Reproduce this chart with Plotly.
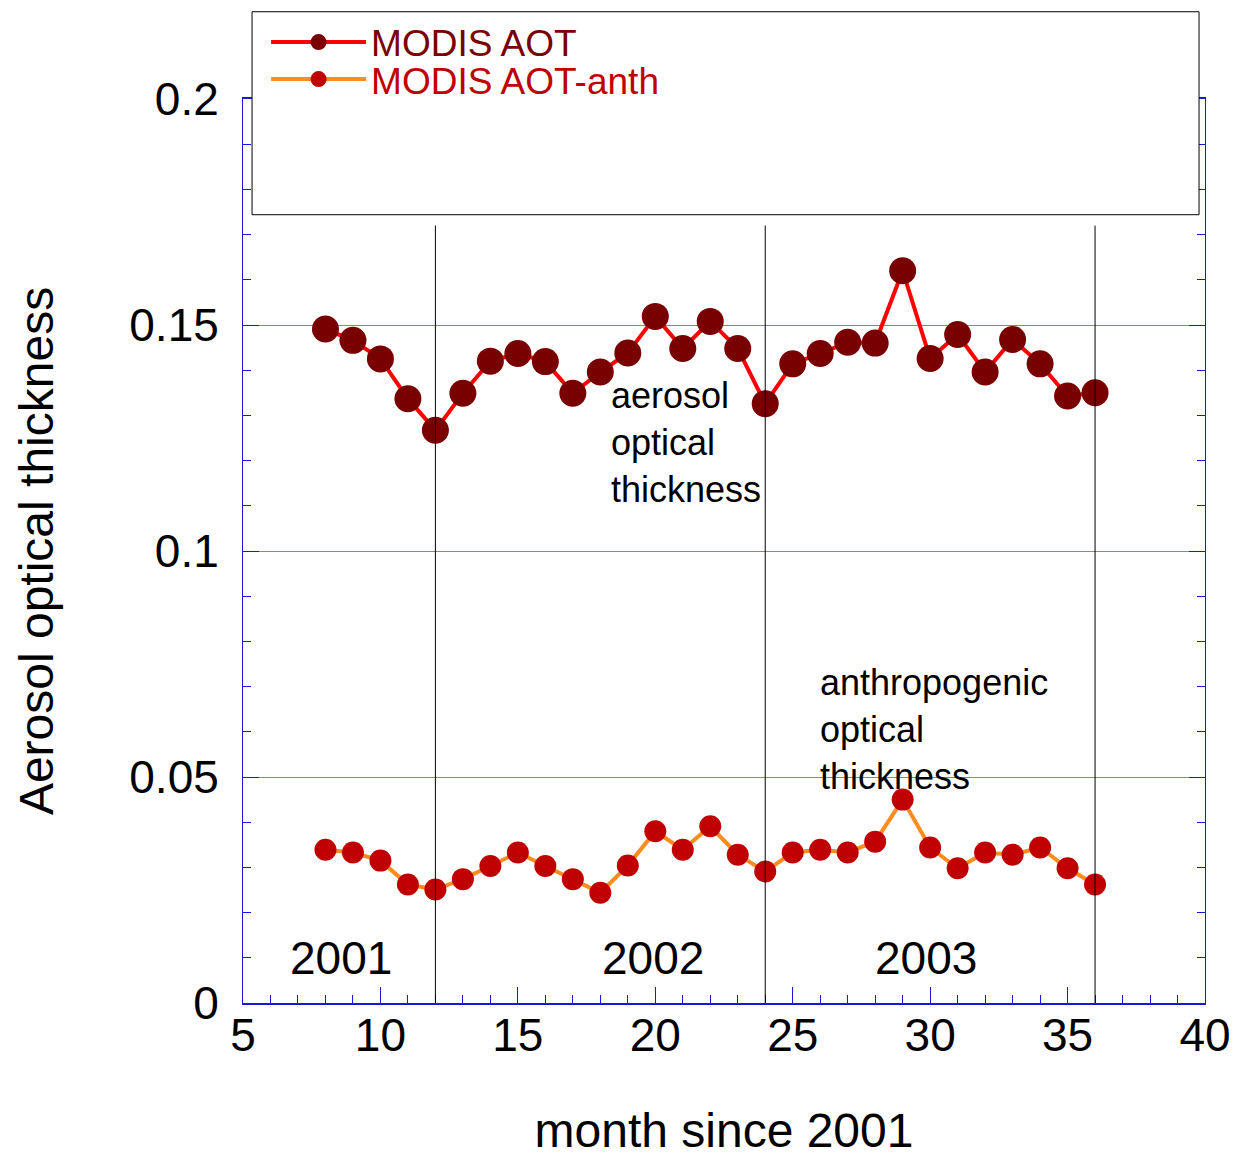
import plotly.graph_objects as go

months = list(range(8, 37))
aot = [0.1491, 0.1466, 0.1425, 0.1337, 0.1267, 0.1349, 0.1420, 0.1437, 0.1419, 0.1349,
       0.1396, 0.1438, 0.1519, 0.1448, 0.1508, 0.1448, 0.1326, 0.1414, 0.1437, 0.1462,
       0.1460, 0.1620, 0.1426, 0.1479, 0.1396, 0.1468, 0.1414, 0.1343, 0.1350]
aot_anth = [0.0339, 0.0333, 0.0315, 0.0262, 0.0251, 0.0274, 0.0303, 0.0333, 0.0303, 0.0274,
            0.0244, 0.0304, 0.0380, 0.0339, 0.0391, 0.0328, 0.0291, 0.0333, 0.0339, 0.0333,
            0.0357, 0.0450, 0.0344, 0.0298, 0.0333, 0.0328, 0.0344, 0.0298, 0.0262]
year_breaks = [12, 24, 36]
year_labels = ["2001", "2002", "2003"]
year_label_x = [8.57, 19.92, 29.85]
y_tickvals = [0, 0.05, 0.1, 0.15, 0.2]
y_ticktext = ["0", "0.05", "0.1", "0.15", "0.2"]

FONT = "Liberation Sans, Arial, sans-serif"
AXIS_BLUE = "#1a1ad6"
GRID_BLUE = "#7c7cf0"

fig = go.Figure()
fig.add_trace(go.Scatter(
    x=months, y=aot, mode="lines+markers",
    name="<span style='color:#7a0000'>MODIS AOT</span>",
    line=dict(color="#ff0000", width=4),
    marker=dict(color="#780000", size=27, line=dict(width=0)),
    legend="legend",
))
fig.add_trace(go.Scatter(
    x=months, y=aot_anth, mode="lines+markers",
    name="<span style='color:#c00000'>MODIS AOT-anth</span>",
    line=dict(color="#ff8c1e", width=4),
    marker=dict(color="#c00000", size=22, line=dict(width=0)),
    legend="legend2",
))

shapes = []
for xb in year_breaks:
    shapes.append(dict(type="line", xref="x", yref="y", x0=xb, x1=xb, y0=0, y1=0.172,
                       line=dict(color="black", width=1)))
# legend frame
shapes.append(dict(type="rect", xref="paper", yref="paper", x0=0.0094, x1=0.9938,
                   y0=0.872, y1=1.0965, line=dict(color="black", width=1),
                   fillcolor="white", layer="above"))

annotations = [
    dict(x=18.3, y=0.124, xref="x", yref="y", text="aerosol<br>optical<br>thickness",
         showarrow=False, xanchor="left", yanchor="middle", align="left",
         font=dict(family=FONT, size=36, color="black")),
    dict(x=25.93, y=0.0604, xref="x", yref="y", text="anthropogenic<br>optical<br>thickness",
         showarrow=False, xanchor="left", yanchor="middle", align="left",
         font=dict(family=FONT, size=36, color="black")),
]
for lx, lt in zip(year_label_x, year_labels):
    annotations.append(dict(x=lx, y=0.0099, xref="x", yref="y", text=lt, showarrow=False,
                            xanchor="center", yanchor="middle",
                            font=dict(family=FONT, size=46, color="black")))

legend_common = dict(xanchor="left", yanchor="middle", bgcolor="rgba(0,0,0,0)", borderwidth=0,
                     font=dict(family=FONT, size=37), itemwidth=95)

fig.update_layout(
    width=1236, height=1157,
    margin=dict(l=243, r=31, t=95, b=154),
    paper_bgcolor="white", plot_bgcolor="white",
    font=dict(family=FONT, color="black"),
    showlegend=True,
    legend=dict(x=0.024, y=1.0625, **legend_common),
    legend2=dict(x=0.024, y=1.0215, **legend_common),
    shapes=shapes,
    annotations=annotations,
)
fig.update_xaxes(
    range=[5, 40], dtick=5, tick0=5, automargin=False,
    showgrid=False, zeroline=False,
    showline=True, linecolor=AXIS_BLUE, linewidth=2, mirror="ticks",
    ticks="inside", ticklen=16, tickcolor=AXIS_BLUE, tickwidth=1,
    minor=dict(dtick=1, ticks="inside", ticklen=8, tickcolor=AXIS_BLUE, tickwidth=1),
    tickfont=dict(family=FONT, size=46, color="black"),
    ticklabelstandoff=-9,
    title=dict(text="month since 2001", font=dict(family=FONT, size=48, color="black"), standoff=77),
)
fig.update_yaxes(
    range=[0, 0.2], tickmode="array", tickvals=y_tickvals, ticktext=y_ticktext,
    automargin=False,
    showgrid=True, gridcolor=GRID_BLUE, gridwidth=1, zeroline=False,
    showline=True, linecolor=AXIS_BLUE, linewidth=1, mirror="ticks",
    ticks="inside", ticklen=16, tickcolor=AXIS_BLUE, tickwidth=1,
    minor=dict(dtick=0.01, tick0=0, ticks="inside", ticklen=8, tickcolor=AXIS_BLUE, tickwidth=1),
    tickfont=dict(family=FONT, size=46, color="black"),
    ticklabelstandoff=14,
    title=dict(text="Aerosol optical thickness", font=dict(family=FONT, size=48, color="black"), standoff=60),
)

fig.write_html("out.html")
